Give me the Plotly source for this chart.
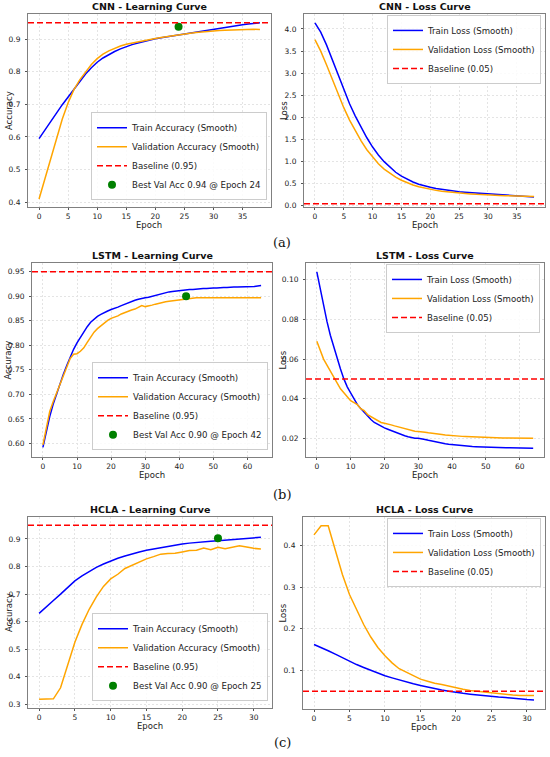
import plotly.graph_objects as go

# ---- data ----
cnn_train_acc = [0.595, 0.620, 0.646, 0.673, 0.699, 0.723, 0.748, 0.771, 0.793, 0.812,
                 0.829, 0.842, 0.853, 0.862, 0.870, 0.877, 0.883, 0.888, 0.893, 0.897,
                 0.901, 0.904, 0.907, 0.910, 0.913, 0.916, 0.919, 0.922, 0.925, 0.928,
                 0.931, 0.934, 0.937, 0.939, 0.942, 0.944, 0.946, 0.948, 0.950]
cnn_val_acc = [0.410, 0.470, 0.533, 0.595, 0.655, 0.705, 0.745, 0.775, 0.800, 0.822,
               0.840, 0.854, 0.864, 0.872, 0.879, 0.884, 0.888, 0.892, 0.896, 0.899,
               0.902, 0.905, 0.908, 0.911, 0.913, 0.916, 0.918, 0.920, 0.922, 0.924,
               0.925, 0.926, 0.927, 0.928, 0.929, 0.930, 0.930, 0.930, 0.929]
cnn_train_loss = [4.14, 3.93, 3.64, 3.30, 2.95, 2.62, 2.31, 2.03, 1.77, 1.54,
                  1.33, 1.15, 1.00, 0.87, 0.76, 0.67, 0.60, 0.54, 0.49, 0.45,
                  0.42, 0.39, 0.37, 0.35, 0.335, 0.32, 0.31, 0.30, 0.29, 0.28,
                  0.27, 0.26, 0.25, 0.24, 0.23, 0.22, 0.21, 0.205, 0.20]
cnn_val_loss = [3.76, 3.50, 3.19, 2.86, 2.53, 2.22, 1.94, 1.69, 1.47, 1.27,
                1.10, 0.95, 0.83, 0.73, 0.65, 0.58, 0.52, 0.47, 0.43, 0.40,
                0.37, 0.35, 0.33, 0.315, 0.30, 0.29, 0.28, 0.27, 0.26, 0.25,
                0.245, 0.24, 0.235, 0.23, 0.225, 0.22, 0.215, 0.21, 0.21]
cnn_best = (24, 0.938)

lstm_train_acc = [0.592, 0.625, 0.655, 0.680, 0.702, 0.722, 0.741, 0.759, 0.776, 0.792,
                  0.805, 0.817, 0.828, 0.838, 0.847, 0.854, 0.859, 0.863, 0.867, 0.870,
                  0.873, 0.875, 0.878, 0.881, 0.884, 0.887, 0.889, 0.892, 0.894, 0.896,
                  0.897, 0.898, 0.900, 0.902, 0.904, 0.906, 0.908, 0.909, 0.910, 0.911,
                  0.912, 0.913, 0.913, 0.914, 0.914, 0.915, 0.915, 0.916, 0.916, 0.917,
                  0.917, 0.917, 0.918, 0.918, 0.918, 0.919, 0.919, 0.919, 0.919, 0.919,
                  0.920, 0.920, 0.920, 0.921, 0.922]
lstm_val_acc = [0.597, 0.635, 0.665, 0.685, 0.703, 0.720, 0.739, 0.757, 0.773, 0.782,
                0.783, 0.788, 0.795, 0.806, 0.818, 0.827, 0.834, 0.840, 0.846, 0.851,
                0.855, 0.857, 0.860, 0.864, 0.867, 0.870, 0.872, 0.874, 0.877, 0.881,
                0.879, 0.880, 0.882, 0.884, 0.886, 0.887, 0.889, 0.890, 0.891, 0.892,
                0.893, 0.894, 0.895, 0.896, 0.896, 0.897, 0.897, 0.897, 0.898, 0.898,
                0.898, 0.898, 0.898, 0.898, 0.898, 0.898, 0.898, 0.898, 0.898, 0.898,
                0.898, 0.898, 0.898, 0.898, 0.897]
lstm_train_loss = [0.104, 0.095, 0.087, 0.079, 0.072, 0.066, 0.060, 0.055, 0.050, 0.046,
                   0.043, 0.040, 0.037, 0.035, 0.033, 0.031, 0.0295, 0.028, 0.027, 0.026,
                   0.0253, 0.0246, 0.0239, 0.0231, 0.0224, 0.0218, 0.0213, 0.0208, 0.0204, 0.0201,
                   0.0200, 0.0198, 0.0194, 0.0190, 0.0186, 0.0182, 0.0179, 0.0176, 0.0173, 0.0170,
                   0.0168, 0.0166, 0.0164, 0.0162, 0.0161, 0.0160, 0.0159, 0.0158, 0.0157, 0.0156,
                   0.0155, 0.0155, 0.0154, 0.0154, 0.0153, 0.0153, 0.0152, 0.0152, 0.0152, 0.0151,
                   0.0151, 0.0151, 0.0150, 0.0150, 0.0150]
lstm_val_loss = [0.069, 0.064, 0.060, 0.057, 0.054, 0.051, 0.048, 0.045, 0.043, 0.041,
                 0.039, 0.038, 0.037, 0.035, 0.034, 0.032, 0.031, 0.030, 0.029, 0.028,
                 0.0276, 0.0273, 0.0268, 0.0263, 0.0258, 0.0254, 0.0249, 0.0245, 0.0240, 0.0236,
                 0.0235, 0.0234, 0.0231, 0.0228, 0.0225, 0.0223, 0.0221, 0.0219, 0.0217, 0.0215,
                 0.0213, 0.0212, 0.0211, 0.0210, 0.0209, 0.0208, 0.0207, 0.0206, 0.0205, 0.0205,
                 0.0204, 0.0204, 0.0203, 0.0203, 0.0203, 0.0202, 0.0202, 0.0202, 0.0201, 0.0201,
                 0.0201, 0.0201, 0.0200, 0.0200, 0.0200]
lstm_best = (42, 0.900)

hcla_train_acc = [0.630, 0.652, 0.677, 0.700, 0.725, 0.748, 0.766, 0.782, 0.797, 0.809,
                  0.820, 0.830, 0.838, 0.846, 0.853, 0.859, 0.864, 0.869, 0.874, 0.878,
                  0.882, 0.885, 0.888, 0.890, 0.892, 0.894, 0.896, 0.898, 0.900, 0.902,
                  0.904, 0.906]
hcla_val_acc = [0.318, 0.318, 0.320, 0.360, 0.440, 0.525, 0.590, 0.645, 0.690, 0.728,
                0.755, 0.772, 0.793, 0.805, 0.818, 0.828, 0.836, 0.845, 0.847, 0.848,
                0.853, 0.858, 0.859, 0.867, 0.861, 0.870, 0.865, 0.869, 0.875, 0.871,
                0.866, 0.864]
hcla_train_loss = [0.162, 0.155, 0.147, 0.139, 0.130, 0.121, 0.114, 0.107, 0.100, 0.093,
                   0.087, 0.082, 0.077, 0.072, 0.068, 0.064, 0.060, 0.056, 0.053, 0.050,
                   0.047, 0.045, 0.043, 0.041, 0.039, 0.038, 0.036, 0.035, 0.033, 0.032,
                   0.030, 0.029]
hcla_val_loss = [0.425, 0.447, 0.447, 0.390, 0.330, 0.282, 0.245, 0.210, 0.180, 0.155,
                 0.135, 0.118, 0.104, 0.095, 0.086, 0.079, 0.074, 0.069, 0.066, 0.062,
                 0.058, 0.055, 0.052, 0.050, 0.048, 0.046, 0.045, 0.043, 0.041, 0.040,
                 0.040, 0.040]
hcla_best = (25, 0.903)

acc_baseline = 0.95
loss_baseline = 0.05

W, H = 550, 757
FONT = "DejaVu Sans"

# panel boxes in pixels: (left, right, top, bottom)
panels = [
    dict(model="CNN", kind="acc", box=(28, 271, 14, 208), train=cnn_train_acc, val=cnn_val_acc,
         best=cnn_best, xr=[-1.9, 39.9], yr=[0.385, 0.977], xt=list(range(0, 36, 5)),
         yt=[0.4, 0.5, 0.6, 0.7, 0.8, 0.9], fmt=".1f"),
    dict(model="CNN", kind="loss", box=(304, 545, 14, 208), train=cnn_train_loss, val=cnn_val_loss,
         xr=[-1.9, 39.9], yr=[-0.03, 4.34], xt=list(range(0, 36, 5)),
         yt=[0.0, 0.5, 1.0, 1.5, 2.0, 2.5, 3.0, 3.5, 4.0], fmt=".1f"),
    dict(model="LSTM", kind="acc", box=(32, 272, 264, 459), train=lstm_train_acc, val=lstm_val_acc,
         best=lstm_best, xr=[-3.2, 67.2], yr=[0.572, 0.968], xt=list(range(0, 61, 10)),
         yt=[0.60, 0.65, 0.70, 0.75, 0.80, 0.85, 0.90, 0.95], fmt=".2f"),
    dict(model="LSTM", kind="loss", box=(306, 544, 264, 459), train=lstm_train_loss, val=lstm_val_loss,
         xr=[-3.2, 67.2], yr=[0.0105, 0.1085], xt=list(range(0, 61, 10)),
         yt=[0.02, 0.04, 0.06, 0.08, 0.10], fmt=".2f"),
    dict(model="HCLA", kind="acc", box=(28, 272, 519, 711), train=hcla_train_acc, val=hcla_val_acc,
         best=hcla_best, xr=[-1.55, 32.55], yr=[0.286, 0.98], xt=list(range(0, 31, 5)),
         yt=[0.3, 0.4, 0.5, 0.6, 0.7, 0.8, 0.9], fmt=".1f"),
    dict(model="HCLA", kind="loss", box=(303, 545, 519, 712), train=hcla_train_loss, val=hcla_val_loss,
         xr=[-1.55, 32.55], yr=[0.007, 0.468], xt=list(range(0, 31, 5)),
         yt=[0.1, 0.2, 0.3, 0.4], fmt=".1f"),
]
captions = [("(a)", 243), ("(b)", 496), ("(c)", 745)]


def px(x):
    return x / W


def py(y):
    return 1 - y / H


def label(text, x, y, size, angle=0, family=FONT, color="#222"):
    return dict(text=text, xref="paper", yref="paper", x=px(x), y=py(y),
                xanchor="center", yanchor="middle", textangle=angle, showarrow=False,
                font=dict(family=family, size=size, color=color))


fig = go.Figure()
layout = dict(width=W, height=H, margin=dict(l=0, r=0, t=0, b=0),
              paper_bgcolor="white", plot_bgcolor="white",
              font=dict(family=FONT, size=8, color="#222"))
annotations = []
shapes = []

for i, p in enumerate(panels, start=1):
    sfx = "" if i == 1 else str(i)
    xa, ya = "x" + sfx, "y" + sfx
    lg = "legend" + sfx
    left, right, top, bottom = p["box"]
    epochs = list(range(len(p["train"])))
    is_acc = p["kind"] == "acc"
    word = "Accuracy" if is_acc else "Loss"

    fig.add_trace(go.Scatter(x=epochs, y=p["train"], mode="lines", name=f"Train {word} (Smooth)",
                             line=dict(color="blue", width=1.5), xaxis=xa, yaxis=ya,
                             legend=lg, legendrank=1))
    fig.add_trace(go.Scatter(x=epochs, y=p["val"], mode="lines", name=f"Validation {word} (Smooth)",
                             line=dict(color="orange", width=1.5), xaxis=xa, yaxis=ya,
                             legend=lg, legendrank=2))
    base = acc_baseline if is_acc else loss_baseline
    shapes.append(dict(type="line", xref=f"{xa} domain", yref=ya, x0=0, x1=1, y0=base, y1=base,
                       line=dict(color="red", width=1.5, dash="6px,3px"),
                       showlegend=True, name=f"Baseline ({base:.2f})", legend=lg, legendrank=3))
    if is_acc:
        be, bv = p["best"]
        fig.add_trace(go.Scatter(x=[be], y=[bv], mode="markers",
                                 name=f"Best Val Acc {bv:.2f} @ Epoch {be}",
                                 marker=dict(color="green", size=8), xaxis=xa, yaxis=ya,
                                 legend=lg, legendrank=4))

    axis_common = dict(showline=True, mirror=True, linecolor="#808080", linewidth=1,
                       showgrid=True, gridcolor="#e4e4e4", gridwidth=0.8, griddash="2px,2px",
                       ticks="outside", ticklen=2, tickcolor="#555", tickwidth=0.8,
                       tickfont=dict(size=7.5, color="#222"), zeroline=False)
    layout["xaxis" + sfx] = dict(axis_common, domain=[px(left), px(right)], range=p["xr"],
                                 tickvals=p["xt"], anchor=ya)
    layout["yaxis" + sfx] = dict(axis_common, domain=[py(bottom), py(top)], range=p["yr"],
                                 tickvals=p["yt"], tickformat=p["fmt"], anchor=xa,
                                 ticklabelstandoff=3)

    if is_acc:
        leg = dict(x=px(right - 4), y=py(bottom - 7), xanchor="right", yanchor="bottom")
    else:
        leg = dict(x=px(right - 4), y=py(top + 1), xanchor="right", yanchor="top")
    layout[lg] = dict(leg, bgcolor="rgba(255,255,255,0.85)", bordercolor="#cccccc", borderwidth=1,
                      font=dict(size=8.6, family=FONT, color="#222"), itemwidth=30)

    mid = (left + right) / 2
    annotations.append(label(f"<b>{p['model']} - {'Learning' if is_acc else 'Loss'} Curve</b>",
                             mid, top - 7, 9.5, color="#111"))
    annotations.append(label("Epoch", mid, bottom + 17.5, 8.5))
    annotations.append(label(word, 8.5 if is_acc else 283.5, (top + bottom) / 2, 8.5, angle=-90))

for text, yc in captions:
    annotations.append(label(text, 282, yc, 13, family="DejaVu Serif", color="#111"))

layout["annotations"] = annotations
layout["shapes"] = shapes
fig.update_layout(**layout)
# drop the browser's default body margin so the figure fills the window exactly
fig.write_html("out.html", config={"displayModeBar": False},
               post_script="document.body.style.margin = '0';")
